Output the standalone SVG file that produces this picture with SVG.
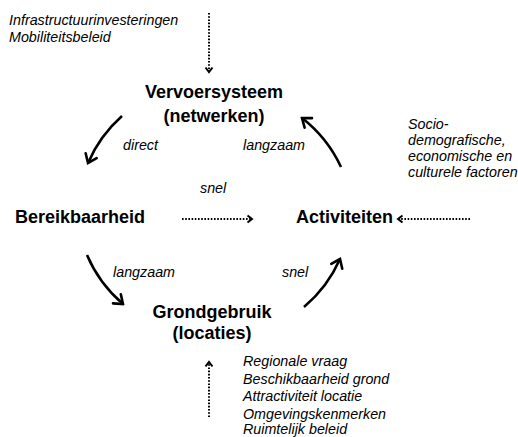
<svg xmlns="http://www.w3.org/2000/svg" width="518" height="437" viewBox="0 0 518 437">
<style>
.n{font-family:"Liberation Sans",Arial,sans-serif;font-weight:bold;font-size:18px;fill:#000}
.i{font-family:"Liberation Sans",Arial,sans-serif;font-style:italic;font-size:14.3px;fill:#000}
.arc{fill:none;stroke:#000;stroke-width:2.6;marker-end:url(#big)}
.dot{fill:none;stroke:#000;stroke-width:2;stroke-dasharray:1.6 1.6;marker-end:url(#small)}
</style>
<defs>
<marker id="big" markerUnits="userSpaceOnUse" viewBox="-12 -8 14 16" markerWidth="14" markerHeight="16" refX="0" refY="0" orient="auto">
<path d="M-8,-6 L0,0 L-8,6" fill="none" stroke="#000" stroke-width="2.6" stroke-linecap="round" stroke-linejoin="miter"/>
</marker>
<marker id="small" markerUnits="userSpaceOnUse" viewBox="-8 -6 10 12" markerWidth="10" markerHeight="12" refX="0" refY="0" orient="auto">
<path d="M-4.5,-3.5 L0,0 L-4.5,3.5" fill="none" stroke="#000" stroke-width="2"/>
</marker>
</defs>
<rect width="518" height="437" fill="#fff"/>
<g id="connectors">
<path class="arc" d="M122,116 A133,133 0 0 0 88,163"/>
<path class="arc" d="M341,167 A133,133 0 0 0 302,118"/>
<path class="arc" d="M87,255 A133,133 0 0 0 123,304"/>
<path class="arc" d="M304,307 A133,133 0 0 0 340,259"/>
<path class="dot" d="M209,13 L209,72"/>
<path class="dot" d="M209,417 L209,362"/>
<path class="dot" d="M182,219 L252,219"/>
<path class="dot" d="M470,219 L398,219"/>
</g>
<g id="vervoersysteem">
<text class="n" x="214" y="98" text-anchor="middle">Vervoersysteem</text>
<text class="n" x="214" y="122" text-anchor="middle">(netwerken)</text>
</g>
<g id="bereikbaarheid"><text class="n" x="15" y="223">Bereikbaarheid</text></g>
<g id="activiteiten"><text class="n" x="296" y="223">Activiteiten</text></g>
<g id="grondgebruik">
<text class="n" x="212" y="318" text-anchor="middle">Grondgebruik</text>
<text class="n" x="212" y="339" text-anchor="middle">(locaties)</text>
</g>
<g id="labels">
<text class="i" x="123" y="150">direct</text>
<text class="i" x="243" y="150">langzaam</text>
<text class="i" x="200" y="193">snel</text>
<text class="i" x="113" y="277">langzaam</text>
<text class="i" x="282" y="277">snel</text>
</g>
<g id="infra">
<text class="i" x="9" y="25">Infrastructuurinvesteringen</text>
<text class="i" x="9" y="42">Mobiliteitsbeleid</text>
</g>
<g id="socio">
<text class="i" x="408" y="129">Socio-</text>
<text class="i" x="408" y="145">demografische,</text>
<text class="i" x="408" y="161">economische en</text>
<text class="i" x="408" y="177">culturele factoren</text>
</g>
<g id="grond-factoren">
<text class="i" x="243" y="366">Regionale vraag</text>
<text class="i" x="243" y="383.5">Beschikbaarheid grond</text>
<text class="i" x="243" y="401">Attractiviteit locatie</text>
<text class="i" x="243" y="418.5">Omgevingskenmerken</text>
<text class="i" x="243" y="434">Ruimtelijk beleid</text>
</g>
</svg>
